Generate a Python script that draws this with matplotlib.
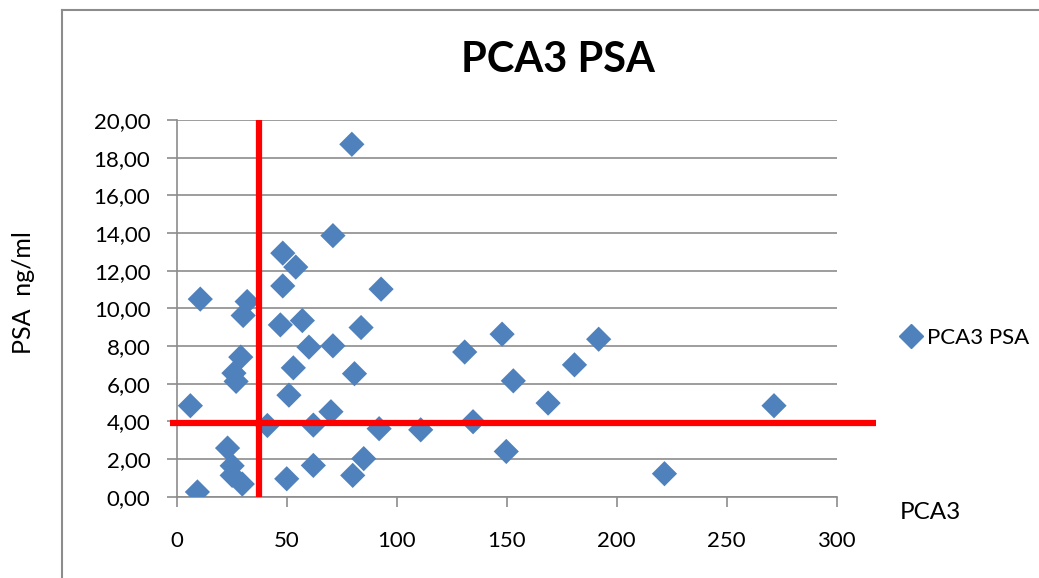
import matplotlib
matplotlib.use("Agg")
import matplotlib.pyplot as plt
from matplotlib.lines import Line2D

# PCA3 score vs PSA (ng/ml)
pca3 = [79.6, 71.0, 48.2, 54.1, 48.2, 92.9, 10.7, 32.0, 30.2, 47.1,
        57.1, 83.8, 60.1, 71.0, 29.1, 53.0, 26.0, 27.0, 80.8, 51.0,
        6.2, 70.1, 41.2, 62.1, 92.0, 110.9, 23.1, 25.2, 25.2, 29.8,
        9.4, 50.0, 62.1, 80.0, 85.0, 134.7, 130.9, 147.9, 153.0, 149.8,
        168.8, 180.8, 191.8, 221.7, 271.5]
psa = [18.71, 13.86, 12.93, 12.19, 11.19, 11.02, 10.49, 10.36, 9.62, 9.12,
       9.35, 8.98, 7.94, 8.01, 7.41, 6.84, 6.56, 6.12, 6.53, 5.39,
       4.83, 4.51, 3.78, 3.80, 3.61, 3.55, 2.58, 1.64, 1.13, 0.67,
       0.25, 0.95, 1.66, 1.13, 2.02, 3.98, 7.68, 8.63, 6.15, 2.40,
       4.97, 7.00, 8.36, 1.22, 4.83]

# cut-off lines
pca3_cut = 37.3
psa_cut = 3.9

xticks = [0, 50, 100, 150, 200, 250, 300]
yticks = [0, 2, 4, 6, 8, 10, 12, 14, 16, 18, 20]

plt.rcParams['font.family'] = ['Lato', 'DejaVu Sans']

fig = plt.figure(figsize=(10.39, 5.78), dpi=100)
ax = fig.add_axes([0.1701, 0.1407, 0.6352, 0.6517])

blue = '#4F81BD'
ax.scatter(pca3, psa, marker='D', s=165, color=blue, zorder=3, label='PCA3 PSA',
           edgecolors='none')

# red cut-off lines (drawn a bit past the plot like the original)
ax.plot([pca3_cut, pca3_cut], [0, 20], color='#FF0000', lw=4.5, zorder=4,
        clip_on=False, solid_capstyle='butt')
ax.plot([-3, 318], [psa_cut, psa_cut], color='#FF0000', lw=4.5, zorder=4,
        clip_on=False, solid_capstyle='butt')

ax.set_xlim(0, 300)
ax.set_ylim(0, 20)
ax.set_xticks(xticks)
ax.set_yticks(yticks)
ax.set_yticklabels(['{:.2f}'.format(v).replace('.', ',') for v in yticks])
ax.grid(axis='y', color='#8C8C8C', lw=1.2)
ax.set_axisbelow(True)

for s in ['top', 'right']:
    ax.spines[s].set_visible(False)
for s in ['left', 'bottom']:
    ax.spines[s].set_color('#8C8C8C')
    ax.spines[s].set_linewidth(1.2)
ax.tick_params(axis='both', colors='#8C8C8C', length=7, width=1.2,
               labelcolor='black', labelsize=16)
ax.tick_params(axis='y', pad=12)
ax.tick_params(axis='x', pad=18)

fig.text(0.537, 0.896, 'PCA3 PSA', fontsize=30, fontweight='bold',
         ha='center', va='center')
fig.text(0.023, 0.493, 'PSA  ng/ml', rotation=90, fontsize=18,
         ha='center', va='center')
fig.text(0.866, 0.113, 'PCA3', fontsize=17.5, ha='left', va='center')

handle = Line2D([], [], marker='D', color=blue, ls='none', markersize=12)
fig.legend([handle], ['PCA3 PSA'], loc='center left',
           bbox_to_anchor=(0.845, 0.416), frameon=False, fontsize=16,
           handletextpad=0.1, handlelength=1.2)

# outer chart frame (only left and top edges visible)
fig.add_artist(Line2D([0.0592, 0.0592], [0.0, 0.9827], color='#8C8C8C', lw=1.5))
fig.add_artist(Line2D([0.0592, 1.0], [0.9827, 0.9827], color='#8C8C8C', lw=1.5))

fig.savefig('out.png', dpi=100)
